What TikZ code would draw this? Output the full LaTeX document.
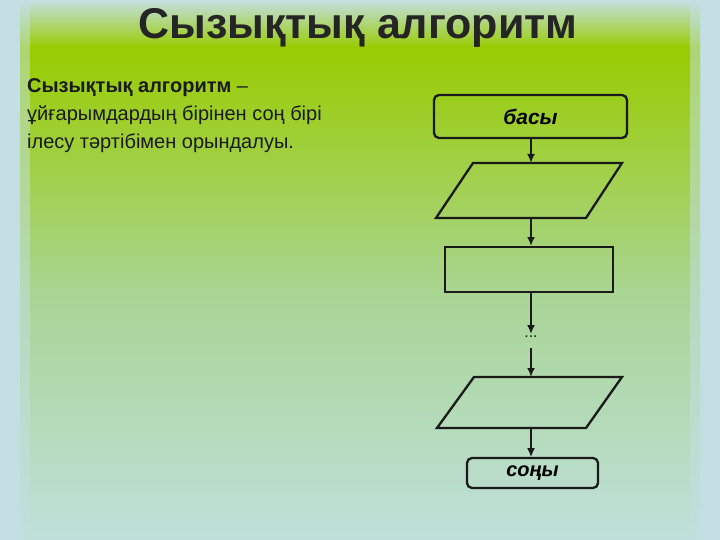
\documentclass[tikz,border=0pt]{standalone}
\usepackage{fontspec}
\setmainfont{Liberation Sans}
\usetikzlibrary{arrows.meta,shadows}
\definecolor{outerbg}{HTML}{C3DFE3}
\definecolor{gtop}{HTML}{99CC00}
\definecolor{gmid}{HTML}{A9D596}
\definecolor{gbot}{HTML}{BFE0DB}
\definecolor{ln}{HTML}{1A1A1A}
\tikzset{
  box/.style={draw=ln,line width=2.3pt},
  term/.style={box,rounded corners=5pt,font=\bfseries\itshape\fontsize{21}{21}\selectfont},
  arr/.style={draw=ln,line width=2pt,-{Latex[length=9pt,width=8pt]}},
}
\begin{document}
\begin{tikzpicture}[x=1pt,y=-1pt]
\useasboundingbox (0,0) rectangle (720,540);
\fill[outerbg] (0,0) rectangle (720,540);
\shade[top color=outerbg,bottom color=gtop] (20,0) rectangle (700,48);
\shade[top color=gtop,bottom color=gmid] (20,47) rectangle (700,300);
\shade[top color=gmid,bottom color=gbot] (20,299) rectangle (700,540);
\fill[outerbg,opacity=0.5] (0,0) rectangle (30,540);
\fill[outerbg,opacity=0.5] (690,0) rectangle (720,540);
% title
\node[font=\bfseries\fontsize{43}{43}\selectfont,text=ln!95,anchor=center] (title) at (358,28) {Сызықтық алгоритм};
% left text
\node[anchor=north west,align=left,font=\fontsize{20}{28}\selectfont,text=ln,inner sep=0pt] (txt) at (27,78)
 {\textbf{Сызықтық алгоритм} –\\ ұйғарымдардың бірінен соң бірі\\ ілесу тәртібімен орындалуы.};
% flowchart
\node[term,minimum width=193pt,minimum height=43pt] (start) at (530.5,116.5) {басы};
\draw[box] (473,163) -- (622,163) -- (586,218) -- (436,218) -- cycle;
\coordinate (p1t) at (531,163); \coordinate (p1b) at (531,218);
\node[box,minimum width=168pt,minimum height=45pt,inner sep=0pt] (rect) at (529,269.5) {};
\node[font=\fontsize{16}{16}\selectfont,text=ln] (dots) at (531,337) {...};
\draw[box] (474,377) -- (622,377) -- (586,428) -- (437,428) -- cycle;
\coordinate (p2t) at (531,377); \coordinate (p2b) at (531,428);
\node[term,font=\bfseries\itshape\fontsize{20}{20}\selectfont,minimum width=131pt,minimum height=30pt] (end) at (532.5,473) {соңы};
\coordinate (d1) at (531,334); \coordinate (d2) at (531,348);
\draw[arr] (531,139) -- (p1t);
\draw[arr] (p1b) -- (531,246);
\draw[arr] (531,292) -- (d1);
\draw[arr] (d2) -- (p2t);
\draw[arr,line width=1.3pt] (p2b) -- (531,457);
\end{tikzpicture}
\end{document}
